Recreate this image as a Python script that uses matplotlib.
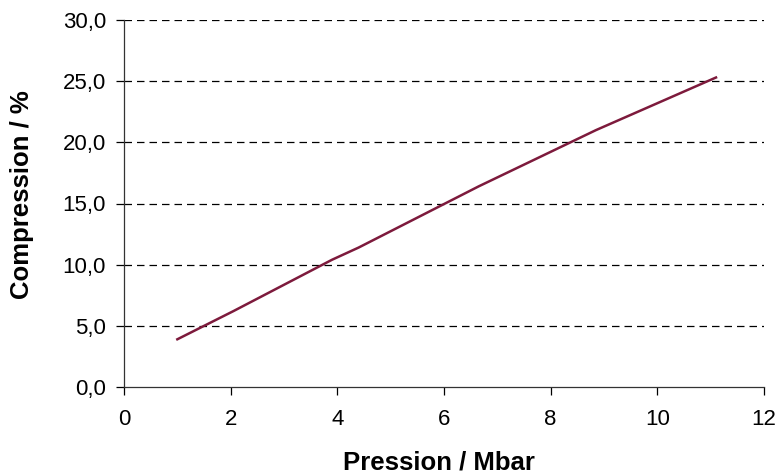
import matplotlib
matplotlib.use("Agg")
import matplotlib.pyplot as plt
from matplotlib.ticker import FuncFormatter

pression = [1.0, 2.05, 3.9, 4.4, 6.65, 8.85, 11.1]
compression = [3.9, 6.2, 10.4, 11.4, 16.4, 21.0, 25.3]

x_ticks = [0, 2, 4, 6, 8, 10, 12]
y_ticks = [0, 5, 10, 15, 20, 25, 30]

plt.rcParams['font.family'] = ['Liberation Sans', 'DejaVu Sans']

fig = plt.figure(figsize=(7.78, 4.76), dpi=100)
ax = fig.add_axes([124/778, 1-387/476, (764-124)/778, (387-20)/476])

for yv in y_ticks[1:]:
    ax.axhline(yv, color='black', lw=0.9, dashes=(6, 4), zorder=1)

ax.plot(pression, compression, color='#7d1a3c', lw=1.8, zorder=3)

ax.set_xlim(0, 12)
ax.set_ylim(0, 30)
ax.set_xticks(x_ticks)
ax.set_yticks(y_ticks)
ax.yaxis.set_major_formatter(FuncFormatter(lambda v, p: f"{v:.1f}".replace('.', ',')))
ax.xaxis.set_major_formatter(FuncFormatter(lambda v, p: f"{int(v)}"))
ax.tick_params(direction='out', length=6, width=0.9, labelsize=16, colors='black')
ax.tick_params(axis='x', pad=10)
ax.tick_params(axis='y', pad=7)
for s in ['top', 'right']:
    ax.spines[s].set_visible(False)
for s in ['left', 'bottom']:
    ax.spines[s].set_linewidth(0.9)
    ax.spines[s].set_color('#333333')

ax.set_xlabel('Pression / Mbar', fontsize=18.5, fontweight='bold')
ax.set_ylabel('Compression / %', fontsize=18.5, fontweight='bold')
ax.xaxis.label.set_va('center')
ax.xaxis.set_label_coords(0.492, (387-463)/367)
ax.yaxis.label.set_va('center')
ax.yaxis.label.set_ha('center')
ax.yaxis.set_label_coords((22-124)/640, 0.523)

fig.savefig('out.png', dpi=100)
